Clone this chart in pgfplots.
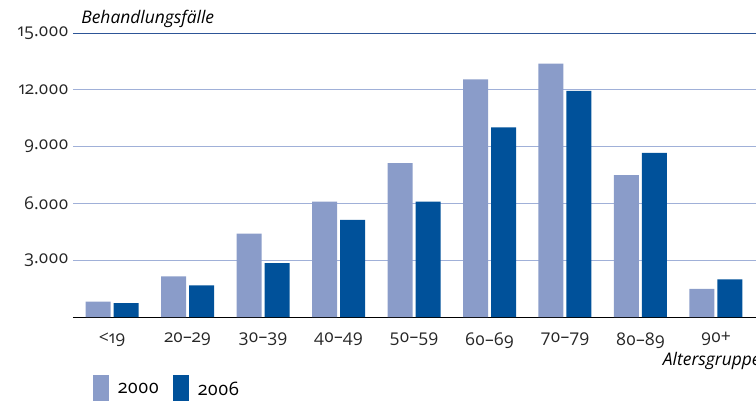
\documentclass[border=0pt]{standalone}
\usepackage{fontspec}
\setmainfont{Open Sans}[Numbers=OldStyle]
\usepackage{pgfplots}
\pgfplotsset{compat=1.18}
\definecolor{lightbar}{RGB}{138,156,201}
\definecolor{darkbar}{RGB}{0,81,154}
\definecolor{gridlight}{RGB}{160,176,216}
\definecolor{griddark}{RGB}{45,85,151}
\begin{document}
\begin{tikzpicture}
\begin{axis}[
  at={(0pt,0pt)}, anchor=south west,
  scale only axis, width=683pt, height=284pt,
  xmin=-0.517, xmax=8.53, ymin=0, ymax=15000,
  scaled y ticks=false,
  ybar=3pt, bar width=25pt,
  axis x line=bottom, axis y line=left,
  x axis line style={black, line width=1pt, -},
  y axis line style={draw=none},
  major tick length=0pt,
  xtick={0,...,8},
  xticklabels={<19,20--29,30--39,40--49,50--59,60--69,70--79,80--89,90+},
  ytick={3000,6000,9000,12000},
  yticklabels={3.000,6.000,9.000,12.000},
  extra y ticks={15000}, extra y tick labels={15.000},
  extra y tick style={grid style={griddark, line width=1pt}},
  ymajorgrids, grid style={gridlight, line width=1pt},
  tick label style={font=\fontsize{17.5}{19}\selectfont, text=black!85},
  yticklabel style={xshift=-1pt},
  xticklabel style={yshift=-12pt},
  clip=false,
  legend style={draw=none, fill=none, at={(axis description cs:0.0293,-0.205)}, anchor=north west,
    legend columns=2, font=\fontsize{18.5}{20}\selectfont, inner sep=0pt,
    /tikz/every odd column/.append style={column sep=7pt},
    /tikz/every even column/.append style={column sep=12pt}},
  legend image code/.code={\fill[#1, draw=none] (0pt,-24pt) rectangle (16pt,14pt);},
]
\addplot[fill=lightbar, draw=none] coordinates {(0,810) (1,2150) (2,4400) (3,6090) (4,8130) (5,12550) (6,13380) (7,7500) (8,1480)};
\addplot[fill=darkbar, draw=none] coordinates {(0,730) (1,1670) (2,2840) (3,5130) (4,6090) (5,10010) (6,11940) (7,8670) (8,1990)};
\legend{2000,2006}
\node[anchor=base west, font=\fontsize{17.4}{19}\selectfont\itshape, inner sep=0pt] at (axis description cs:0.012,1.035) {Behandlungsfälle};
\node[anchor=base east, font=\fontsize{17.4}{19}\selectfont\itshape, inner sep=0pt] at (axis description cs:1.007,-0.1725) {Altersgruppe};
\end{axis}
\pgfresetboundingbox
\useasboundingbox (-73pt,-83pt) rectangle (683pt,317pt);
\end{tikzpicture}
\end{document}
